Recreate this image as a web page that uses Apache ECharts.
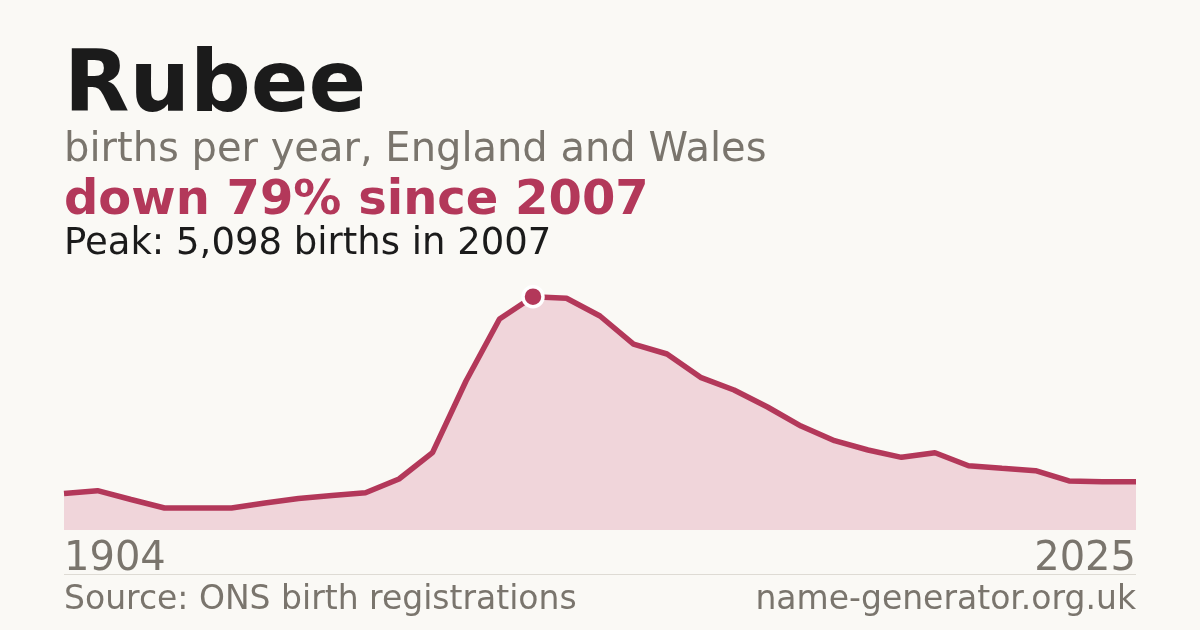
<!DOCTYPE html>
<html>
<head>
<meta charset="utf-8">
<script src="https://cdn.jsdelivr.net/npm/echarts@6/dist/echarts.min.js"></script>
<style>
  html, body { margin: 0; padding: 0; background: #faf9f5; }
  #chart { width: 1200px; height: 630px; }
</style>
</head>
<body>
<div id="chart"></div>
<script>
// years (first point is the earliest record, then a continuous run)
var years = ['1904', '1994', '1995', '1996', '1997', '1998', '1999', '2000', '2001', '2002',
  '2003', '2004', '2005', '2006', '2007', '2008', '2009', '2010', '2011', '2012',
  '2013', '2014', '2015', '2016', '2017', '2018', '2019', '2020', '2021', '2022',
  '2023', '2024', '2025'];
// births per year
var births = [798, 859, 666, 481, 481, 481, 590, 688, 754, 815,
  1114, 1689, 3256, 4610, 5098, 5063, 4676, 4064, 3846, 3336,
  3059, 2688, 2272, 1951, 1748, 1588, 1689, 1405, 1348, 1296,
  1071, 1055, 1055];

var accent = '#b3385a';
var grey = '#7a756d';
var font = 'DejaVu Sans';

var peakVal = Math.max.apply(null, births);
var peakIdx = births.indexOf(peakVal);

var chart = echarts.init(document.getElementById('chart'), null, { renderer: 'canvas' });

var option = {
  backgroundColor: '#faf9f5',
  animation: false,
  grid: {
    left: 64,
    right: 64,
    top: 296.7,
    bottom: 100
  },
  xAxis: {
    type: 'category',
    data: years,
    boundaryGap: false,
    axisLine: { show: false },
    axisTick: { show: false },
    splitLine: { show: false },
    axisLabel: {
      interval: function (index) {
        return index === 0 || index === years.length - 1;
      },
      alignMinLabel: 'left',
      alignMaxLabel: 'right',
      margin: 10,
      color: grey,
      fontFamily: font,
      fontSize: 40
    }
  },
  yAxis: {
    type: 'value',
    min: 0,
    max: peakVal,
    show: false,
    splitLine: { show: false }
  },
  series: [{
    type: 'line',
    data: births,
    clip: false,
    showAllSymbol: true,
    symbol: function (val, params) {
      return params.dataIndex === peakIdx ? 'circle' : 'none';
    },
    symbolSize: 20,
    lineStyle: { color: accent, width: 5.5 },
    itemStyle: { color: accent, borderColor: '#ffffff', borderWidth: 3.5 },
    areaStyle: { color: '#f0d5da', opacity: 1 },
    z: 3
  }],
  graphic: [
    {
      type: 'text', left: 64, top: 46,
      style: { text: 'Rubee', fill: '#1b1b1b', font: 'bold 85px "DejaVu Sans"' }
    },
    {
      type: 'text', left: 64, top: 131,
      style: { text: 'births per year, England and Wales', fill: grey, font: '40px "DejaVu Sans"' }
    },
    {
      type: 'text', left: 64, top: 178,
      style: { text: 'down 79% since 2007', fill: accent, font: 'bold 48px "DejaVu Sans"' }
    },
    {
      type: 'text', left: 64, top: 226,
      style: { text: 'Peak: 5,098 births in 2007', fill: '#1b1b1b', font: '37px "DejaVu Sans"' }
    },
    {
      type: 'line',
      shape: { x1: 64, y1: 574.5, x2: 1136, y2: 574.5 },
      style: { stroke: '#dedbd4', lineWidth: 1 }
    },
    {
      type: 'text', left: 64, top: 584,
      style: { text: 'Source: ONS birth registrations', fill: grey, font: '33px "DejaVu Sans"' }
    },
    {
      type: 'text', right: 64, top: 584,
      style: { text: 'name-generator.org.uk', fill: grey, font: '33px "DejaVu Sans"' }
    }
  ]
};

chart.setOption(option);
</script>
</body>
</html>
